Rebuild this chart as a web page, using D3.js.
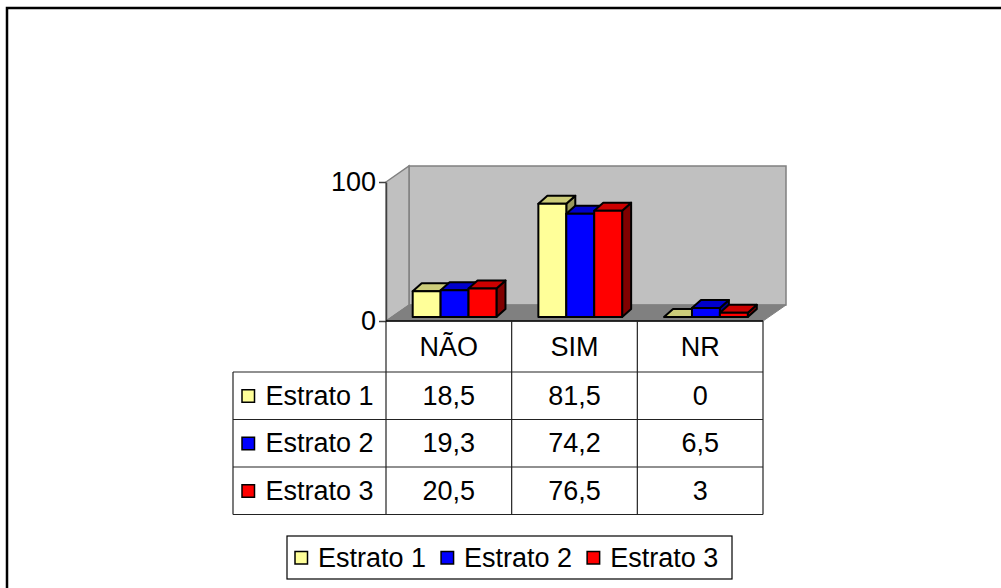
<!DOCTYPE html>
<html>
<head>
<meta charset="utf-8">
<script src="https://cdn.jsdelivr.net/npm/d3@7/dist/d3.min.js"></script>
<style>
  html, body { margin: 0; padding: 0; background: #fff; }
  svg { display: block; }
  text { font-family: "Liberation Sans", Arial, sans-serif; fill: #000; }
</style>
</head>
<body>
<svg id="chart" width="1001" height="588"></svg>
<script>
// Categories, series and their values
const categories = ["NÃO", "SIM", "NR"];
const seriesNames = ["Estrato 1", "Estrato 2", "Estrato 3"];
const estrato1 = [18.5, 81.5, 0];
const estrato2 = [19.3, 74.2, 6.5];
const estrato3 = [20.5, 76.5, 3];
const tickValues = [0, 100];
const valueLabels = [
  ["18,5", "81,5", "0"],
  ["19,3", "74,2", "6,5"],
  ["20,5", "76,5", "3"]
];

const seriesValues = [estrato1, estrato2, estrato3];
const fronts = ["#FFFF99", "#0000FF", "#FF0000"];
const tops   = ["#CCCC7A", "#0000CC", "#CC0000"];
const sides  = ["#99995C", "#000099", "#800000"];

const svg = d3.select("#chart");
const FONT = 27;

// outer chart frame
svg.append("rect")
  .attr("x", 7).attr("y", 8).attr("width", 1100).attr("height", 700)
  .attr("fill", "#fff").attr("stroke", "#000").attr("stroke-width", 2.5);

// plot geometry
const plotLeft = 386, plotRight = 763;
const floorY = 321, topY = 182;
const depthX = 23, depthY = 16;

const x = d3.scaleBand().domain(categories).range([plotLeft, plotRight]);
const bw = x.bandwidth();
const barW = bw / (seriesNames.length + 1.5);
const inner = d3.scaleBand().domain(seriesNames)
  .range([0.75 * barW, bw - 0.75 * barW]);

const yAxisScale = d3.scaleLinear().domain([0, 100]).range([floorY, topY]);
// bars sit a quarter of the way into the floor depth
const barShiftX = depthX * 0.25, barShiftY = depthY * 0.25;
const yBar = d3.scaleLinear().domain([0, 100]).range([floorY - barShiftY, topY - barShiftY]);
const barDX = 9, barDY = 8;

const g = svg.append("g");

// back wall
const wallTop = yAxisScale(100) - depthY, wallBot = yAxisScale(0) - depthY;
g.append("rect")
  .attr("x", plotLeft + depthX).attr("y", wallTop)
  .attr("width", plotRight - plotLeft).attr("height", wallBot - wallTop)
  .attr("fill", "#C0C0C0").attr("stroke", "#808080").attr("stroke-width", 1.5);
// side wall
g.append("polygon")
  .attr("points", [
    [plotLeft, yAxisScale(100)], [plotLeft + depthX, wallTop],
    [plotLeft + depthX, wallBot], [plotLeft, yAxisScale(0)]
  ].map(p => p.join(",")).join(" "))
  .attr("fill", "#C0C0C0").attr("stroke", "#808080").attr("stroke-width", 1.5);
// floor
g.append("polygon")
  .attr("points", [
    [plotLeft, floorY], [plotLeft + depthX, wallBot],
    [plotRight + depthX, wallBot], [plotRight, floorY]
  ].map(p => p.join(",")).join(" "))
  .attr("fill", "#808080").attr("stroke", "#808080").attr("stroke-width", 1);

// value axis
const axis = g.append("g")
  .attr("transform", `translate(${plotLeft},0)`)
  .call(d3.axisLeft(yAxisScale).tickValues(tickValues).tickSize(7).tickSizeOuter(0).tickPadding(3));
axis.select(".domain").attr("stroke", "#404040").attr("stroke-width", 1.5);
axis.selectAll(".tick line").attr("stroke", "#404040").attr("stroke-width", 1.5);
axis.selectAll(".tick text")
  .style("font-family", '"Liberation Sans", Arial, sans-serif')
  .style("font-size", FONT + "px").attr("fill", "#000");

// 3D bars
const bars = g.append("g");
categories.forEach((cat, ci) => {
  seriesNames.forEach((s, si) => {
    const v = seriesValues[si][ci];
    const x0 = x(cat) + inner(s) + barShiftX;
    const x1 = x0 + inner.bandwidth();
    const y0 = yBar(0), y1 = yBar(v);
    const bg = bars.append("g").attr("stroke", "#000").attr("stroke-width", 2)
      .attr("stroke-linejoin", "round");
    // side face
    bg.append("polygon")
      .attr("points", [[x1, y1], [x1 + barDX, y1 - barDY], [x1 + barDX, y0 - barDY], [x1, y0]]
        .map(p => p.join(",")).join(" "))
      .attr("fill", sides[si]);
    // top face
    bg.append("polygon")
      .attr("points", [[x0, y1], [x0 + barDX, y1 - barDY], [x1 + barDX, y1 - barDY], [x1, y1]]
        .map(p => p.join(",")).join(" "))
      .attr("fill", tops[si]);
    // front face
    if (y0 - y1 > 0.5) {
      bg.append("rect")
        .attr("x", x0).attr("y", y1).attr("width", x1 - x0).attr("height", y0 - y1)
        .attr("fill", fronts[si]);
    }
  });
});

// data table
const legendColLeft = 233;
const headerBottom = 372;
const rowH = 47.5;
const rowY = d3.scaleBand().domain(seriesNames).range([headerBottom, headerBottom + rowH * seriesNames.length]);
const tableBottom = headerBottom + rowH * seriesNames.length;
const table = svg.append("g").attr("stroke", "#222").attr("stroke-width", 1.2);

// top edge under floor
table.append("line").attr("x1", plotLeft).attr("x2", plotRight).attr("y1", floorY).attr("y2", floorY)
  .attr("stroke", "#000").attr("stroke-width", 1.5);
// column separators
[plotLeft, ...categories.map(c => x(c) + bw)].forEach(cx => {
  table.append("line").attr("x1", cx).attr("x2", cx).attr("y1", floorY).attr("y2", tableBottom);
});
table.append("line").attr("x1", legendColLeft).attr("x2", legendColLeft)
  .attr("y1", headerBottom).attr("y2", tableBottom);
// row separators
[headerBottom, ...seriesNames.map(s => rowY(s) + rowH)].forEach(ry => {
  table.append("line").attr("x1", legendColLeft).attr("x2", plotRight).attr("y1", ry).attr("y2", ry);
});

// header labels
svg.append("g").selectAll("text").data(categories).join("text")
  .attr("x", d => x(d) + bw / 2).attr("y", (floorY + headerBottom) / 2)
  .attr("text-anchor", "middle").attr("dominant-baseline", "central")
  .style("font-size", FONT + "px").text(d => d);

// row keys and values
seriesNames.forEach((s, si) => {
  const cy = rowY(s) + rowH / 2;
  svg.append("rect")
    .attr("x", 242).attr("y", cy - 6).attr("width", 12.5).attr("height", 12.5)
    .attr("fill", fronts[si]).attr("stroke", "#000").attr("stroke-width", 1.5);
  svg.append("text").attr("x", 265.5).attr("y", cy)
    .attr("dominant-baseline", "central").style("font-size", FONT + "px").text(s);
  categories.forEach((cat, ci) => {
    svg.append("text").attr("x", x(cat) + bw / 2).attr("y", cy)
      .attr("text-anchor", "middle").attr("dominant-baseline", "central")
      .style("font-size", FONT + "px").text(valueLabels[si][ci]);
  });
});

// legend
const legend = svg.append("g");
legend.append("rect").attr("x", 287).attr("y", 536).attr("width", 445).attr("height", 43)
  .attr("fill", "#fff").attr("stroke", "#000").attr("stroke-width", 1.2);
let lx = 295;
seriesNames.forEach((s, si) => {
  legend.append("rect").attr("x", lx).attr("y", 557.5 - 6).attr("width", 12.5).attr("height", 12.5)
    .attr("fill", fronts[si]).attr("stroke", "#000").attr("stroke-width", 1.5);
  const t = legend.append("text").attr("x", lx + 23).attr("y", 557.5)
    .attr("dominant-baseline", "central").style("font-size", FONT + "px").text(s);
  lx += 23 + t.node().getComputedTextLength() + 15;
});
</script>
</body>
</html>
